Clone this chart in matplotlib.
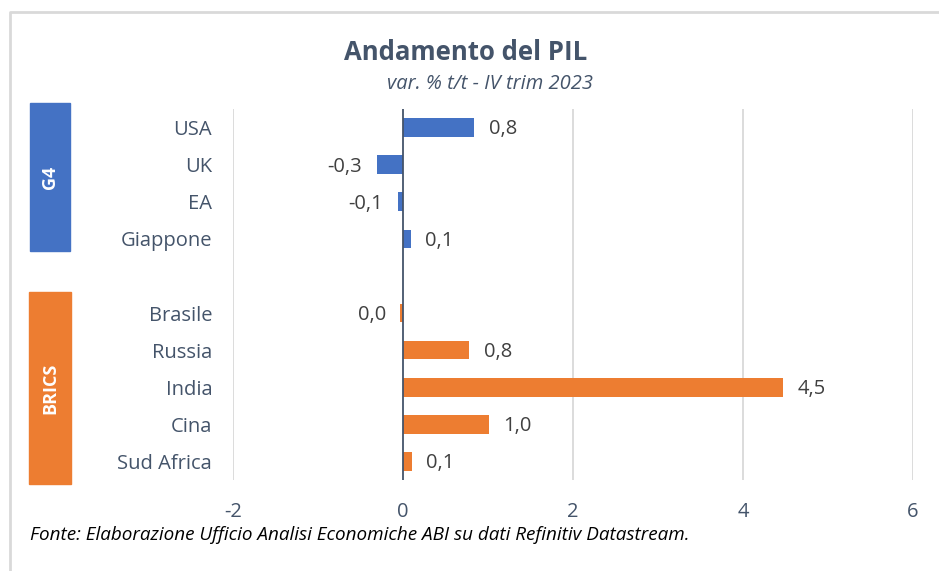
import matplotlib
matplotlib.use("Agg")
import matplotlib.pyplot as plt
from matplotlib.patches import Rectangle
from matplotlib.lines import Line2D

plt.rcParams['font.family'] = ['Open Sans', 'DejaVu Sans']

# data
g4_names = ["USA", "UK", "EA", "Giappone"]
g4_vals = [0.84, -0.31, -0.06, 0.09]
brics_names = ["Brasile", "Russia", "India", "Cina", "Sud Africa"]
brics_vals = [-0.03, 0.78, 4.47, 1.01, 0.10]
groups = ["G4", "BRICS"]
xticks = [-2, 0, 2, 4, 6]

BLUE = "#4472C4"
ORANGE = "#ED7D31"
SLATE = "#44546A"
GRID = "#D9D9D9"

W, H = 939, 571
fig = plt.figure(figsize=(W / 100, H / 100), dpi=100)

def fx(px):
    return px / W

def fy(py):
    return 1 - py / H

ax = fig.add_axes([fx(233), fy(480), fx(913) - fx(233), fy(109) - fy(480)])

names = g4_names + [""] + brics_names
pos_g4 = list(range(len(g4_names)))
pos_br = [len(g4_names) + 1 + i for i in range(len(brics_names))]

ax.barh(pos_g4, g4_vals, height=0.5, color=BLUE, zorder=3)
ax.barh(pos_br, brics_vals, height=0.5, color=ORANGE, zorder=3)

for p, v in zip(pos_g4 + pos_br, g4_vals + brics_vals):
    txt = f"{v:.1f}".replace(".", ",")
    if txt == "-0,0":
        txt = "0,0"
    if v >= 0:
        ax.text(v + 0.17, p + 0.05, txt, va="center", ha="left", fontsize=14.5, color="#404040")
    else:
        ax.text(v - 0.17, p + 0.05, txt, va="center", ha="right", fontsize=14.5, color="#404040")

ax.set_xlim(-2, 6)
ax.set_ylim(len(names) - 0.5, -0.5)
ax.set_xticks(xticks)
ax.set_xticklabels([str(t) for t in xticks], fontsize=14.5, color=SLATE)
ax.set_yticks(pos_g4 + pos_br)
ax.set_yticklabels(g4_names + brics_names, fontsize=14.5, color=SLATE)
ax.tick_params(axis="y", length=0, pad=15)
ax.tick_params(axis="x", length=0, pad=16)
for s in ax.spines.values():
    s.set_visible(False)
for t in xticks:
    if t == 0:
        ax.axvline(0, color=SLATE, lw=1.3, zorder=4)
    else:
        ax.axvline(t, color=GRID, lw=1.3, zorder=1)

# group boxes
fig.patches.append(Rectangle((fx(30), fy(251)), fx(70) - fx(30), fy(103) - fy(251),
                             transform=fig.transFigure, color=BLUE))
fig.patches.append(Rectangle((fx(29), fy(484)), fx(71) - fx(29), fy(292) - fy(484),
                             transform=fig.transFigure, color=ORANGE))
fig.text(fx(50), fy(177), groups[0], rotation=90, ha="center", va="center",
         color="white", fontsize=13, fontweight="bold")
fig.text(fx(50), fy(388), groups[1], rotation=90, ha="center", va="center",
         color="white", fontsize=13, fontweight="bold")

# frame
fig.lines.append(Line2D([fx(10), fx(10), 1], [0, fy(12), fy(12)],
                        transform=fig.transFigure, color=GRID, lw=2))

fig.text(fx(466), fy(52), "Andamento del PIL", ha="center", va="center",
         fontsize=18.5, fontweight="bold", color=SLATE)
fig.text(fx(490), fy(84), "var. % t/t - IV trim 2023", ha="center", va="center",
         fontsize=14.5, style="italic", color=SLATE)
fig.text(fx(30), fy(535), "Fonte: Elaborazione Ufficio Analisi Economiche ABI su dati Refinitiv Datastream.",
         ha="left", va="center", fontsize=13.6, style="italic", color="black")

fig.savefig("out.png", dpi=100)
